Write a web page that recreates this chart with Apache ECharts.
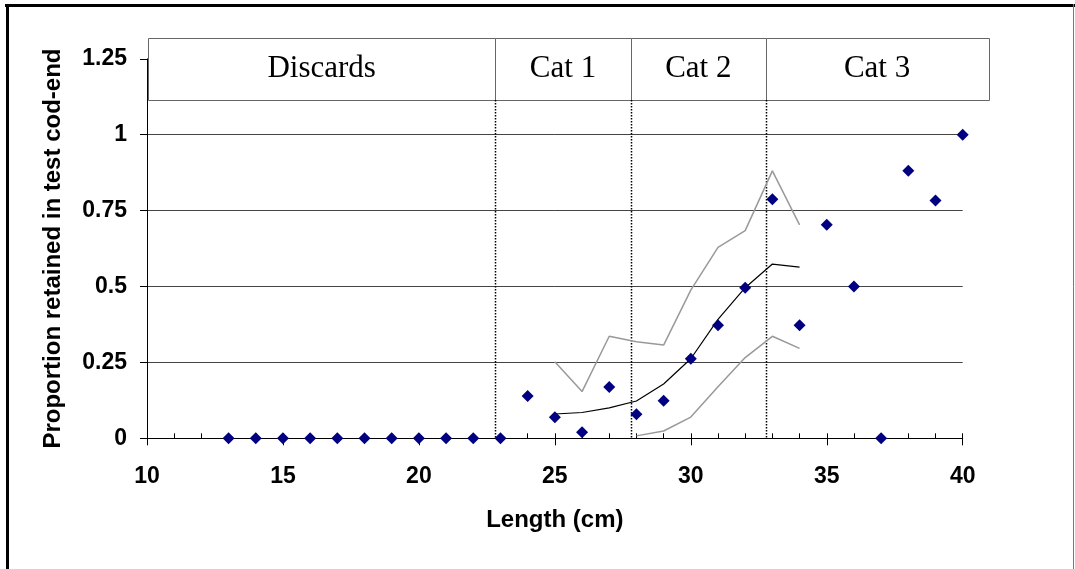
<!DOCTYPE html>
<html>
<head>
<meta charset="utf-8">
<script src="https://cdn.jsdelivr.net/npm/echarts@6/dist/echarts.min.js"></script>
<style>
html,body{margin:0;padding:0;background:#fff;}
#chart{width:1075px;height:569px;}
</style>
</head>
<body>
<div id="chart"></div>
<script>
// Observed proportions by length class
const lengths = [13,14,15,16,17,18,19,20,21,22,23,24,25,26,27,28,29,30,31,32,33,34,35,36,37,38,39,40];
const observed = [0,0,0,0,0,0,0,0,0,0,0,0.139,0.069,0.020,0.169,0.079,0.124,0.262,0.372,0.496,0.787,0.372,0.703,0.50,0,0.881,0.783,1.0];
// Fitted curve and confidence bands
const fitLengths = [25,26,27,28,29,30,31,32,33,34];
const fitted = [0.080,0.085,0.100,0.123,0.179,0.262,0.392,0.496,0.574,0.564];
const upperBand = [0.252,0.154,0.336,0.318,0.307,0.488,0.629,0.684,0.881,0.703];
const lowerLengths = [28,29,30,31,32,33,34];
const lowerBand = [0.008,0.024,0.070,0.170,0.266,0.336,0.296];
// Market category boundaries (length, cm) and labels
const catBounds = [10.05,22.8,27.8,32.75,40.95];
const catLabels = ['Discards','Cat 1','Cat 2','Cat 3'];
// Axis ticks
const yTicks = [0,0.25,0.5,0.75,1,1.25];
const xTicks = [10,15,20,25,30,35,40];

const BOX_TOP = 1.319, BOX_BOTTOM = 1.114;
const AX = {fontFamily:'"Liberation Sans", Arial, sans-serif', fontWeight:'bold', color:'#000'};

const chart = echarts.init(document.getElementById('chart'), null, {renderer:'canvas'});

const catData = catLabels.map((l,i)=>[catBounds[i], catBounds[i+1], l]);

const option = {
  animation:false,
  backgroundColor:'#fff',
  grid:{left:147, right:112.3, top:58.8, bottom:130.7, containLabel:false},
  xAxis:[{
    type:'value', position:'bottom', min:xTicks[0], max:xTicks[xTicks.length-1], interval:5,
    axisLine:{show:true, onZero:false, lineStyle:{color:'#000', width:1}},
    axisTick:{show:true, inside:false, length:7, lineStyle:{color:'#000'}},
    axisLabel:{...AX, fontSize:23, margin:27},
    splitLine:{show:false},
    name:'Length (cm)', nameLocation:'middle', nameGap:70,
    nameTextStyle:{...AX, fontSize:24}
  },{
    type:'value', position:'bottom', min:xTicks[0], max:xTicks[xTicks.length-1], interval:1,
    axisLine:{show:false, onZero:false},
    axisTick:{show:true, inside:true, length:5, lineStyle:{color:'#000'}},
    axisLabel:{show:false}, splitLine:{show:false}
  }],
  yAxis:{
    type:'value', min:yTicks[0], max:yTicks[yTicks.length-1], interval:0.25,
    axisLine:{show:true, lineStyle:{color:'#000', width:1}},
    axisTick:{show:true, inside:false, length:7, lineStyle:{color:'#000'}},
    axisLabel:{...AX, fontSize:23, margin:20, formatter:v=>String(v)},
    splitLine:{show:true, lineStyle:{color:'#444', width:1}},
    name:'Proportion retained in test cod-end', nameLocation:'middle', nameGap:82, nameRotate:90,
    nameTextStyle:{...AX, fontSize:24}
  },
  graphic:[
    {type:'line', shape:{x1:5, y1:5.5, x2:1075, y2:5.5}, style:{stroke:'#000', lineWidth:3}, z:100},
    {type:'line', shape:{x1:7.5, y1:4, x2:7.5, y2:569}, style:{stroke:'#000', lineWidth:3}, z:100},
    {type:'line', shape:{x1:1073.5, y1:4, x2:1073.5, y2:569}, style:{stroke:'#777', lineWidth:1}, z:100}
  ],
  series:[
    {
      type:'custom', clip:false, z:3,
      data:catData,
      renderItem:(params, api)=>{
        const x0 = api.value(0), x1 = api.value(1), label = catLabels[params.dataIndex];
        const p0 = api.coord([x0, BOX_TOP]);
        const p1 = api.coord([x1, BOX_BOTTOM]);
        const children = [{
          type:'rect',
          shape:{x:Math.round(p0[0])+0.5, y:Math.round(p0[1])+0.5, width:Math.round(p1[0]-p0[0]), height:Math.round(p1[1]-p0[1])},
          style:{fill:'#fff', stroke:'#666', lineWidth:1}
        },{
          type:'text',
          style:{x:(p0[0]+p1[0])/2, y:(p0[1]+p1[1])/2, text:label, align:'center', verticalAlign:'middle',
            font:'31px "Liberation Serif", "Times New Roman", serif', fill:'#000'}
        }];
        if (params.dataIndex > 0) {
          const q0 = api.coord([x0, BOX_BOTTOM]);
          const q1 = api.coord([x0, 0]);
          const xx = Math.round(q0[0])+0.5;
          children.push({type:'line', shape:{x1:xx, y1:q0[1], x2:xx, y2:q1[1]},
            style:{stroke:'#000', lineWidth:1.5, lineDash:[1.5,1.5]}});
        }
        return {type:'group', children};
      }
    },
    {
      type:'line', data:upperBand.map((v,i)=>[fitLengths[i], v]), symbol:'none',
      lineStyle:{color:'#999', width:1.5}, z:4
    },
    {
      type:'line', data:lowerBand.map((v,i)=>[lowerLengths[i], v]), symbol:'none',
      lineStyle:{color:'#999', width:1.5}, z:4
    },
    {
      type:'line', data:fitted.map((v,i)=>[fitLengths[i], v]), symbol:'none',
      lineStyle:{color:'#000', width:1.2}, z:5
    },
    {
      type:'scatter', data:observed.map((v,i)=>[lengths[i], v]), symbol:'diamond', symbolSize:[12,12],
      itemStyle:{color:'#000080', opacity:1}, z:6
    }
  ]
};
chart.setOption(option);
</script>
</body>
</html>
